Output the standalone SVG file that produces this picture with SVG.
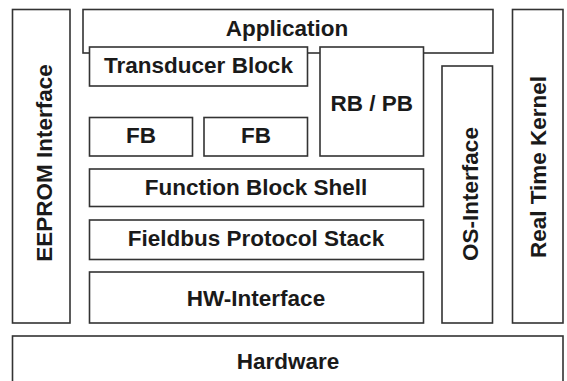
<svg xmlns="http://www.w3.org/2000/svg" width="567" height="381" viewBox="0 0 567 381">
<style>
rect{fill:#fff;stroke:#333;stroke-width:1.6}
text{font-family:"Liberation Sans",Arial,sans-serif;font-weight:bold;font-size:22.5px;fill:#1a1a1a;text-anchor:middle}
</style>
<rect x="0" y="0" width="567" height="381" style="stroke:none"/>
<g id="eeprom"><rect x="12.5" y="9.5" width="57.5" height="313.5"/><text transform="translate(51.5,163) rotate(-90)">EEPROM Interface</text></g>
<g id="application"><rect x="83" y="9.5" width="410" height="43.5"/><text x="287" y="36">Application</text></g>
<g id="transducer"><rect x="89.5" y="47" width="218" height="39"/><text x="198.5" y="72.5">Transducer Block</text></g>
<g id="rbpb"><rect x="320" y="47" width="103.5" height="109"/><text x="371.7" y="111">RB / PB</text></g>
<g id="fb1"><rect x="89.5" y="117.5" width="103" height="38.5"/><text x="141" y="142.5">FB</text></g>
<g id="fb2"><rect x="204" y="117.5" width="103.5" height="38.5"/><text x="256" y="142.5">FB</text></g>
<g id="fbshell"><rect x="89.5" y="169" width="334" height="37.5"/><text x="256" y="195">Function Block Shell</text></g>
<g id="fieldbus"><rect x="89.5" y="220" width="334" height="39.5"/><text x="256" y="245.5">Fieldbus Protocol Stack</text></g>
<g id="hwinterface"><rect x="89.5" y="272" width="334" height="51"/><text x="256" y="306">HW-Interface</text></g>
<g id="osinterface"><rect x="442" y="66" width="50.5" height="257"/><text transform="translate(478,194) rotate(-90)">OS-Interface</text></g>
<g id="rtkernel"><rect x="512.5" y="9.5" width="50.5" height="313.5"/><text transform="translate(546,167) rotate(-90)">Real Time Kernel</text></g>
<g id="hardware"><rect x="12.5" y="336" width="550.5" height="50"/><text x="288" y="369">Hardware</text></g>
</svg>
